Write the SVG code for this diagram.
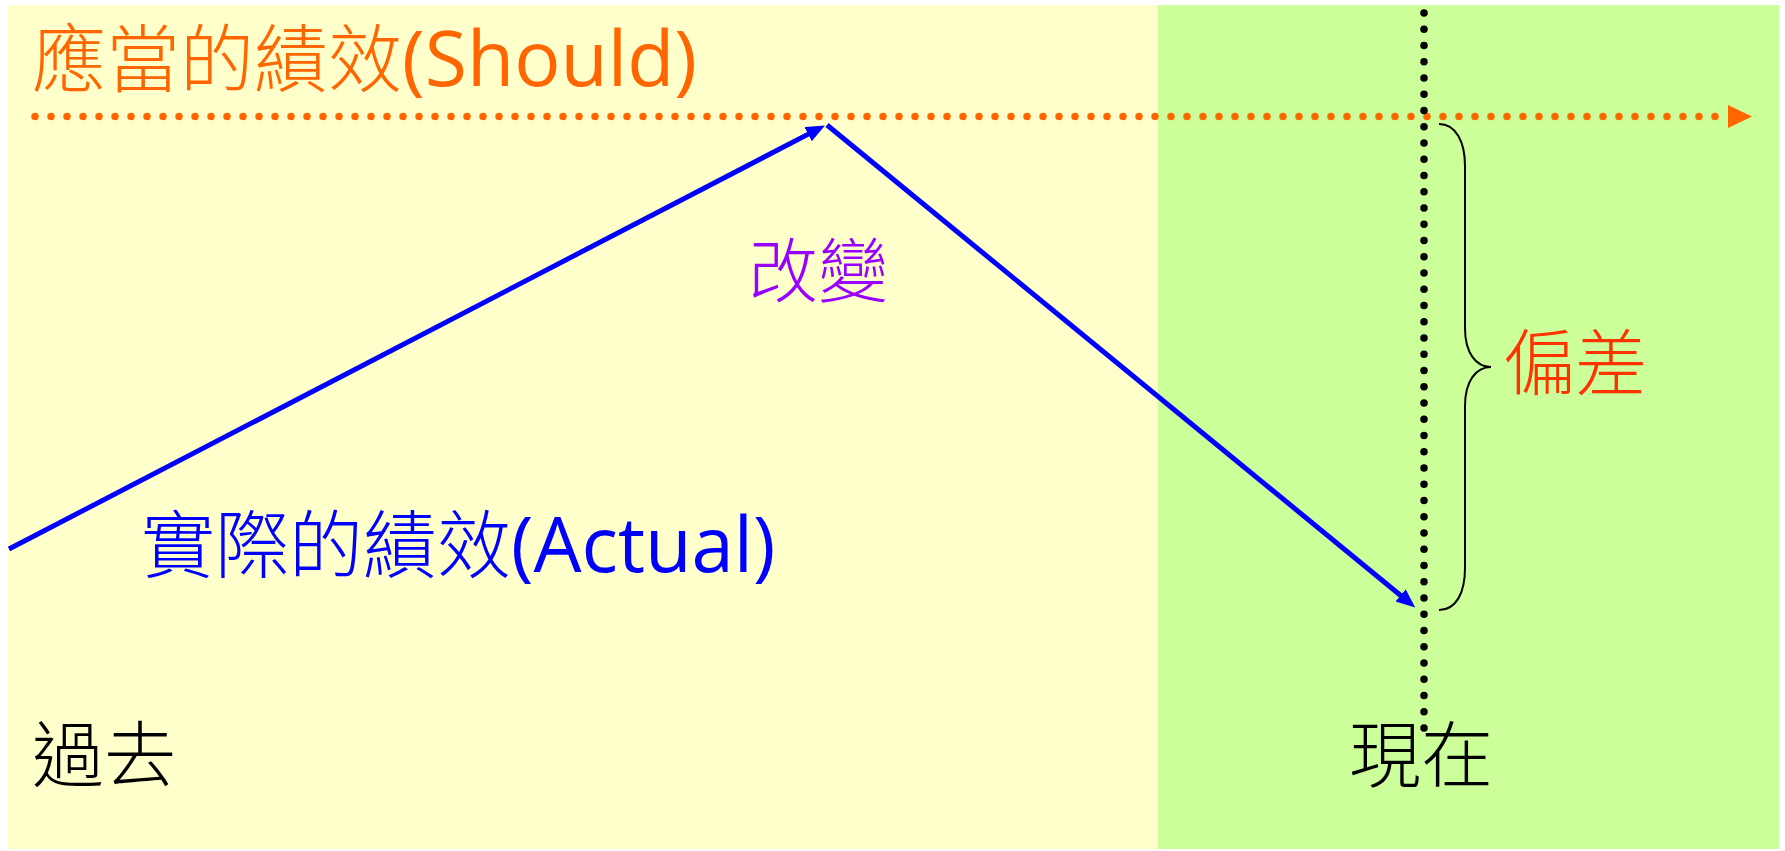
<svg xmlns="http://www.w3.org/2000/svg" width="1785" height="851" viewBox="0 0 1785 851">
<defs>
<style>
.cjk{font-family:"Noto Sans CJK TC","Noto Sans CJK SC",sans-serif;font-weight:300;}
.lat{font-family:"Open Sans","Noto Sans",sans-serif;font-weight:400;}
.big{font-size:74px;}
.blue{stroke:#0000FF;stroke-width:5;fill:none;}
</style>
<marker id="ah" markerUnits="userSpaceOnUse" markerWidth="22" markerHeight="18" refX="10" refY="8" orient="auto">
<path d="M0,0 L19,8 L0,16 z" fill="#0000FF"/>
</marker>
</defs>
<rect x="0" y="0" width="1785" height="851" fill="#FFFFFF"/>
<g id="past-area"><rect x="8" y="5" width="1150" height="844" fill="#FFFFCC"/></g>
<g id="present-area"><rect x="1158" y="5" width="621" height="844" fill="#CCFF99"/></g>
<g id="connectors">
<line x1="35" y1="116.5" x2="1716" y2="116.5" stroke="#FF6600" stroke-width="7.5" stroke-linecap="round" stroke-dasharray="0 16"/>
<polygon points="1728,105 1752,116.5 1728,128" fill="#FF6600"/>
<line x1="1424" y1="13" x2="1424" y2="728.5" stroke="#000000" stroke-width="7.5" stroke-linecap="round" stroke-dasharray="0 16.25"/>
<line class="blue" x1="9" y1="549" x2="817" y2="129.6" marker-end="url(#ah)"/>
<line class="blue" x1="827" y1="125" x2="1408.3" y2="601.7" marker-end="url(#ah)"/>
<path d="M1439,124 C1456,124 1465,142 1465,166 L1465,328 C1465,353 1476,367 1491,367 C1476,367 1465,381 1465,406 L1465,568 C1465,593 1456,610 1439,610" fill="none" stroke="#000000" stroke-width="2"/>
</g>
<g id="should-label"><text x="32" y="86" class="big" fill="#FF6600"><tspan class="cjk">應當的績效</tspan><tspan class="lat" font-size="77">(Should)</tspan></text></g>
<g id="actual-label"><text x="141" y="572" class="big" fill="#0000FF"><tspan class="cjk">實際的績效</tspan><tspan class="lat" font-size="76">(Actual)</tspan></text></g>
<g id="change-label"><text x="748" y="297" class="cjk" font-size="70" fill="#9900FF">改變</text></g>
<g id="gap-label"><text x="1503" y="389" class="cjk" font-size="72" fill="#FF3300">偏差</text></g>
<g id="past-label"><text x="32" y="781" class="cjk" font-size="72" fill="#000000">過去</text></g>
<g id="now-label"><text x="1349" y="781" class="cjk" font-size="72" fill="#000000">現在</text></g>
</svg>
